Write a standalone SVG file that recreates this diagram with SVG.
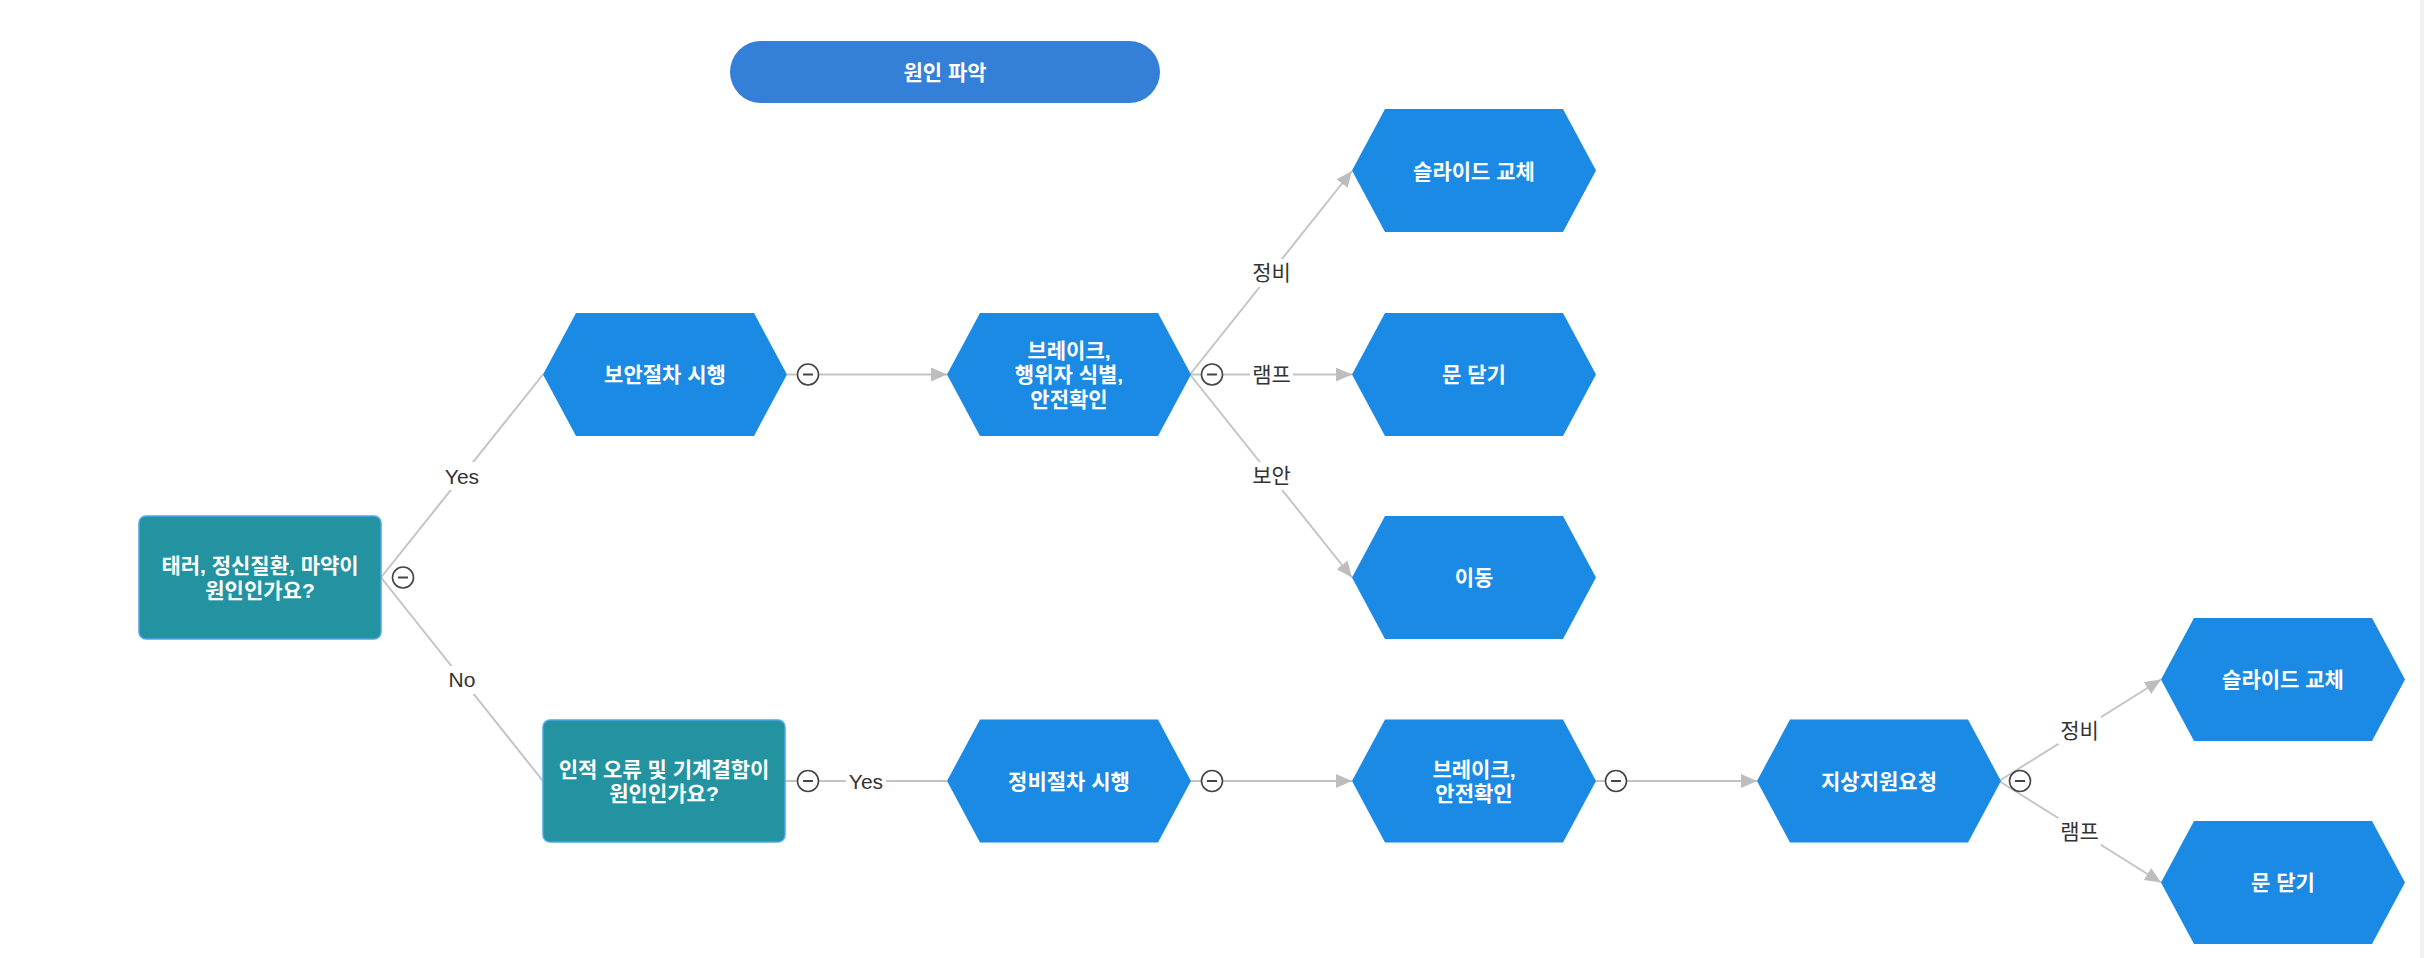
<svg xmlns="http://www.w3.org/2000/svg" width="2424" height="958" viewBox="0 0 2424 958">
<style>
.hex{fill:#1b8ae4;}
.dec{fill:#2393a1;stroke:#4ea7ef;stroke-width:1.5;}
.pill{fill:#3480d8;}
.nt{font-family:"Liberation Sans","Noto Sans CJK KR",sans-serif;font-size:21px;fill:#ffffff;font-weight:700;text-anchor:middle;}
.edge{stroke:#c4c4c4;stroke-width:2;fill:none;}
.lbl{font-family:"Liberation Sans","Noto Sans CJK KR",sans-serif;font-size:21px;fill:#333333;text-anchor:middle;}
.lbg{fill:#ffffff;}
.tog circle{fill:#ffffff;stroke:#444444;stroke-width:1.6;}
.tog line{stroke:#444444;stroke-width:2;}
</style>
<defs>
<marker id="arr" markerUnits="userSpaceOnUse" markerWidth="16" markerHeight="14" refX="16" refY="7" orient="auto" viewBox="0 0 16 14">
<path d="M0,0 L16,7 L0,14 z" fill="#bdbdbd"/>
</marker>
<polygon id="hexshape" points="0,61.5 33,0 211,0 244,61.5 211,123 33,123"/>
</defs>
<rect x="0" y="0" width="2424" height="958" fill="#ffffff"/>
<rect x="2420" y="0" width="4" height="958" fill="#f1f1f1"/>

<g id="connectors">
<line class="edge" x1="381" y1="577.5" x2="543" y2="374.5"/>
<line class="edge" x1="381" y1="577.5" x2="543" y2="781"/>
<line class="edge" x1="787" y1="374.5" x2="947" y2="374.5" marker-end="url(#arr)"/>
<line class="edge" x1="1190" y1="374.5" x2="1352" y2="171" marker-end="url(#arr)"/>
<line class="edge" x1="1190" y1="374.5" x2="1352" y2="374.5" marker-end="url(#arr)"/>
<line class="edge" x1="1190" y1="374.5" x2="1352" y2="577.5" marker-end="url(#arr)"/>
<line class="edge" x1="785" y1="781" x2="947" y2="781"/>
<line class="edge" x1="1190" y1="781" x2="1352" y2="781" marker-end="url(#arr)"/>
<line class="edge" x1="1595" y1="781" x2="1757" y2="781" marker-end="url(#arr)"/>
<line class="edge" x1="1999" y1="781" x2="2161" y2="679.5" marker-end="url(#arr)"/>
<line class="edge" x1="1999" y1="781" x2="2161" y2="882.5" marker-end="url(#arr)"/>

<g id="labels">
<rect class="lbg" x="442" y="462" width="40" height="28"/>
<text class="lbl" x="462" y="483.5">Yes</text>
<rect class="lbg" x="446" y="666" width="32" height="28"/>
<text class="lbl" x="462" y="687">No</text>
<rect class="lbg" x="846" y="767" width="40" height="28"/>
<text class="lbl" x="866" y="788.5">Yes</text>
<rect class="lbg" x="1250" y="259" width="43" height="28"/>
<text class="lbl" x="1271.5" y="280">정비</text>
<rect class="lbg" x="1250" y="361" width="43" height="28"/>
<text class="lbl" x="1271.5" y="382">램프</text>
<rect class="lbg" x="1250" y="462" width="43" height="28"/>
<text class="lbl" x="1271.5" y="483">보안</text>
<rect class="lbg" x="2058" y="716" width="43" height="28"/>
<text class="lbl" x="2079.5" y="737.5">정비</text>
<rect class="lbg" x="2058" y="818" width="43" height="28"/>
<text class="lbl" x="2079.5" y="839">램프</text>
</g>

<g id="toggles" class="tog">
<circle cx="403" cy="577.5" r="10.5"/><line x1="398" y1="577.5" x2="408" y2="577.5"/>
<circle cx="808" cy="374.5" r="10.5"/><line x1="803" y1="374.5" x2="813" y2="374.5"/>
<circle cx="1212" cy="374.5" r="10.5"/><line x1="1207" y1="374.5" x2="1217" y2="374.5"/>
<circle cx="808" cy="781" r="10.5"/><line x1="803" y1="781" x2="813" y2="781"/>
<circle cx="1212" cy="781" r="10.5"/><line x1="1207" y1="781" x2="1217" y2="781"/>
<circle cx="1616" cy="781" r="10.5"/><line x1="1611" y1="781" x2="1621" y2="781"/>
<circle cx="2020" cy="781" r="10.5"/><line x1="2015" y1="781" x2="2025" y2="781"/>
</g>
</g>

<g id="n-title">
<rect class="pill" x="730" y="41" width="430" height="62" rx="31" ry="31"/>
<text class="nt" x="945" y="79.5">원인 파악</text>
</g>

<g id="n-q1">
<rect class="dec" x="139" y="516" width="242" height="123" rx="7" ry="7"/>
<text class="nt" x="260" y="573">태러, 정신질환, 마약이</text>
<text class="nt" x="260" y="597.5">원인인가요?</text>
</g>

<g id="n-q2">
<rect class="dec" x="543" y="720" width="242" height="122" rx="7" ry="7"/>
<text class="nt" x="664" y="776.5">인적 오류 및 기계결함이</text>
<text class="nt" x="664" y="801">원인인가요?</text>
</g>

<g id="n-security">
<use href="#hexshape" class="hex" x="543" y="313"/>
<text class="nt" x="665" y="382">보안절차 시행</text>
</g>

<g id="n-brake1">
<use href="#hexshape" class="hex" x="947" y="313"/>
<text class="nt" x="1069" y="357.5">브레이크,</text>
<text class="nt" x="1069" y="382">행위자 식별,</text>
<text class="nt" x="1069" y="406.5">안전확인</text>
</g>

<g id="n-slide1">
<use href="#hexshape" class="hex" x="1352" y="109"/>
<text class="nt" x="1474" y="178.5">슬라이드 교체</text>
</g>

<g id="n-door1">
<use href="#hexshape" class="hex" x="1352" y="313"/>
<text class="nt" x="1474" y="382">문 닫기</text>
</g>

<g id="n-move">
<use href="#hexshape" class="hex" x="1352" y="516"/>
<text class="nt" x="1474" y="585">이동</text>
</g>

<g id="n-maint">
<use href="#hexshape" class="hex" x="947" y="719.5"/>
<text class="nt" x="1069" y="788.5">정비절차 시행</text>
</g>

<g id="n-brake2">
<use href="#hexshape" class="hex" x="1352" y="719.5"/>
<text class="nt" x="1474" y="776.5">브레이크,</text>
<text class="nt" x="1474" y="801">안전확인</text>
</g>

<g id="n-ground">
<use href="#hexshape" class="hex" x="1757" y="719.5"/>
<text class="nt" x="1879" y="788.5">지상지원요청</text>
</g>

<g id="n-slide2">
<use href="#hexshape" class="hex" x="2161" y="618"/>
<text class="nt" x="2283" y="687">슬라이드 교체</text>
</g>

<g id="n-door2">
<use href="#hexshape" class="hex" x="2161" y="821"/>
<text class="nt" x="2283" y="890">문 닫기</text>
</g>
</svg>
